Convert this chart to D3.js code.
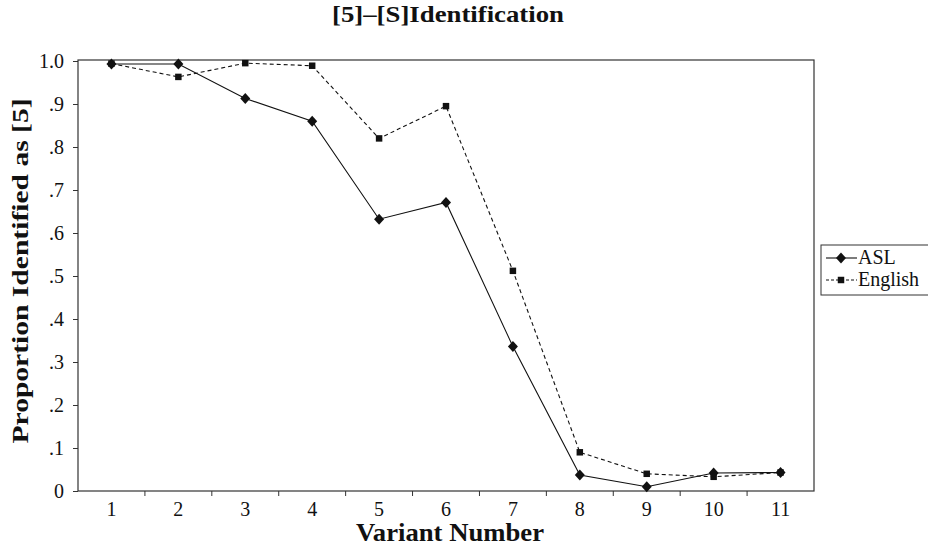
<!DOCTYPE html>
<html><head><meta charset="utf-8">
<script src="https://cdn.jsdelivr.net/npm/d3@7"></script>
<style>body{margin:0;background:#fff}svg{display:block}text{font-family:"Liberation Serif","Times New Roman",serif;fill:#111}</style>
</head><body>
<svg id="c" width="928" height="547"></svg>
<script>
const categories = ["1","2","3","4","5","6","7","8","9","10","11"];
const aslValues = [0.993, 0.993, 0.913, 0.860, 0.632, 0.671, 0.336, 0.037, 0.010, 0.042, 0.043];
const englishValues = [0.994, 0.963, 0.995, 0.989, 0.820, 0.895, 0.512, 0.090, 0.040, 0.033, 0.043];
const yTicks = [0, 0.1, 0.2, 0.3, 0.4, 0.5, 0.6, 0.7, 0.8, 0.9, 1.0];
const yTickLabels = ["0", ".1", ".2", ".3", ".4", ".5", ".6", ".7", ".8", ".9", "1.0"];
const seriesNames = ["ASL", "English"];

const FONT = "Liberation Serif";
const svg = d3.select("#c");
const L = 78, R = 814, T = 61, B = 491;
const x = d3.scaleBand().domain(categories).range([L, R]);
const y = d3.scaleLinear().domain([0, 1]).range([B, T]);
const cx = d => x(d) + x.bandwidth() / 2;

// title
svg.append("text").attr("x", 448).attr("y", 22).attr("text-anchor", "middle")
  .attr("textLength", 232).attr("lengthAdjust", "spacingAndGlyphs")
  .style("font-family", FONT).style("font-size", "24px").style("font-weight", "bold").text("[5]–[S]Identification");

// plot frame
svg.append("rect").attr("x", L).attr("y", T - 1).attr("width", R - L).attr("height", B - T + 1)
  .attr("fill", "none").attr("stroke", "#333").attr("stroke-width", 1.2);

// y axis
const yAxis = d3.axisLeft(y).tickValues(yTicks).tickSize(5).tickPadding(9)
  .tickFormat((d, i) => yTickLabels[i]);
const gy = svg.append("g").attr("transform", `translate(${L},0)`).call(yAxis)
  .attr("font-family", FONT).attr("font-size", 20);
gy.select(".domain").remove();
gy.selectAll("text").style("font-family", FONT).style("font-size", "20px").attr("fill", "#111");
gy.selectAll("line").attr("stroke", "#333");

// x axis
const xAxis = d3.axisBottom(x).tickSize(0).tickPadding(11);
const gx = svg.append("g").attr("transform", `translate(0,${B})`).call(xAxis)
  .attr("font-family", FONT).attr("font-size", 20);
gx.select(".domain").remove();
gx.selectAll("text").style("font-family", FONT).style("font-size", "20px").attr("fill", "#111");
// boundary ticks between categories
const bounds = categories.slice(1).map(c => x(c));
svg.append("g").selectAll("line").data(bounds).join("line")
  .attr("x1", d => d).attr("x2", d => d).attr("y1", B).attr("y2", B + 5).attr("stroke", "#333");

// axis titles
svg.append("text").attr("x", 450).attr("y", 541).attr("text-anchor", "middle")
  .attr("textLength", 188).attr("lengthAdjust", "spacingAndGlyphs")
  .style("font-family", FONT).style("font-size", "25px").style("font-weight", "bold").text("Variant Number");
svg.append("text").attr("transform", `translate(28,271) rotate(-90)`).attr("text-anchor", "middle")
  .attr("textLength", 345).attr("lengthAdjust", "spacingAndGlyphs")
  .style("font-family", FONT).style("font-size", "24px").style("font-weight", "bold").text("Proportion Identified as [5]");

const line = d3.line().x((d, i) => cx(categories[i])).y(d => y(d));
svg.append("path").datum(aslValues).attr("d", line).attr("fill", "none").attr("stroke", "#111").attr("stroke-width", 1.1);
svg.append("path").datum(englishValues).attr("d", line).attr("fill", "none").attr("stroke", "#111").attr("stroke-width", 1.1).attr("stroke-dasharray", "4,3");

const diamond = "M0,-5.5L5,0L0,5.5L-5,0Z";
const square = d3.symbol().type(d3.symbolSquare).size(42)();
svg.append("g").selectAll("path").data(aslValues).join("path")
  .attr("d", diamond).attr("transform", (d, i) => `translate(${cx(categories[i])},${y(d)})`).attr("fill", "#111");
svg.append("g").selectAll("path").data(englishValues).join("path")
  .attr("d", square).attr("transform", (d, i) => `translate(${cx(categories[i])},${y(d)})`).attr("fill", "#111");

// legend
const lg = svg.append("g");
lg.append("rect").attr("x", 821).attr("y", 245).attr("width", 120).attr("height", 50)
  .attr("fill", "#fff").attr("stroke", "#333").attr("stroke-width", 1);
const ly = [258, 280];
seriesNames.forEach((n, i) => {
  lg.append("line").attr("x1", 826).attr("x2", 857).attr("y1", ly[i]).attr("y2", ly[i])
    .attr("stroke", "#111").attr("stroke-width", 1.1).attr("stroke-dasharray", i ? "3,2" : null);
  lg.append("path").attr("d", i ? square : diamond).attr("transform", `translate(841,${ly[i]})`).attr("fill", "#111");
  lg.append("text").attr("x", 858).attr("y", ly[i] + 6).style("font-family", FONT).style("font-size", "20px").text(n);
});
</script>
</body></html>
